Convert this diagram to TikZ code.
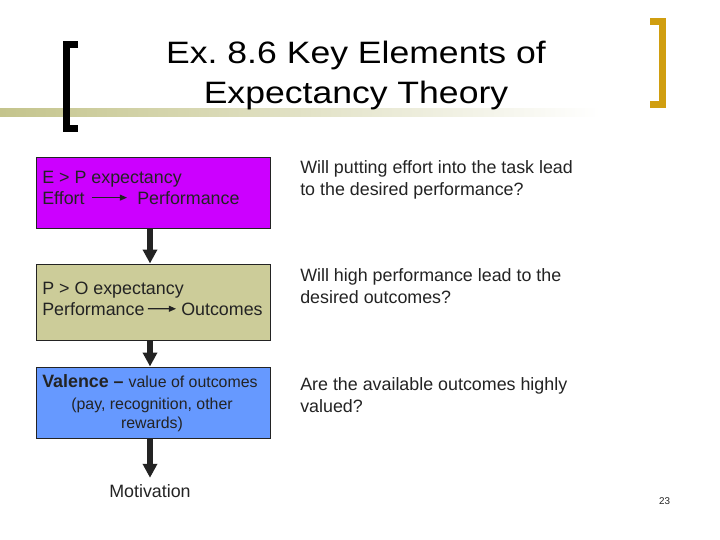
\documentclass[tikz,border=0pt]{standalone}
\usepackage{fontspec}
\setmainfont{Liberation Sans}
\newfontfamily\titlefont[FakeStretch=1.15]{Liberation Sans}
\usetikzlibrary{arrows.meta}
\definecolor{ink}{RGB}{35,35,35}
\definecolor{violetbox}{RGB}{204,0,255}
\definecolor{khakibox}{RGB}{204,204,153}
\definecolor{bluebox}{RGB}{102,153,255}
\definecolor{bandolive}{RGB}{196,196,140}
\definecolor{bracketgold}{RGB}{208,158,16}
\newcommand{\bodyfont}{\fontsize{12.7}{15.6}\selectfont}
\newcommand{\smallbody}{\fontsize{11.3}{13.5}\selectfont}
\begin{document}
\begin{tikzpicture}[x=0.25mm, y=-0.25mm, text=ink,
  every node/.append style={inner sep=0pt, font=\bodyfont},
  stage/.style={draw=ink, line width=0.25mm, minimum width=58.5mm, minimum height=#1},
  flow/.style={draw=ink, line width=1.5mm, -{Triangle[length=3.5mm,width=3.5mm]}},
  lead/.style={draw=ink, line width=0.3mm, -{Triangle[length=1.8mm,width=1.5mm]}},
  bracket/.style={line width=1.75mm, miter limit=4}]
  \fill[white] (0,0) rectangle (720,540);
  \useasboundingbox (0,0) rectangle (720,540);
  \shade[left color=bandolive, right color=white] (0,108) rectangle (600,116);
  \draw[bracket, draw=black] (78,44.5) -- (66.5,44.5) -- (66.5,128.5) -- (78,128.5);
  \draw[bracket, draw=bracketgold] (650,21.5) -- (662.5,21.5) -- (662.5,104.5) -- (650,104.5);
  \node[font=\titlefont\fontsize{22}{28.4}\selectfont, text=black, align=center, anchor=north] (title) at (356,40.5) {Ex.\ 8.6 Key Elements of\\Expectancy Theory};

  \node[stage=17.75mm, fill=violetbox] (ep) at (153.7,192.5) {};
  \node[stage=19mm, fill=khakibox] (po) at (153.7,302) {};
  \node[stage=17.75mm, fill=bluebox] (val) at (153.7,402.5) {};
  \node[anchor=base] (mot) at (150,497) {Motivation};

  \node[anchor=base west] (eptitle) at (42,183) {E > P expectancy};
  \node[anchor=base west] (effort) at (42,204) {Effort};
  \node[anchor=base west] (perf) at (137,204) {Performance};
  \draw[lead, shorten <=1.75mm, shorten >=2.5mm] (effort) -- (perf);

  \node[anchor=base west] (potitle) at (42,294) {P > O expectancy};
  \node[anchor=base west] (perfb) at (42,315) {Performance};
  \node[anchor=base west] (outcomes) at (181,315) {Outcomes};
  \draw[lead, shorten <=0.75mm, shorten >=1.25mm] (perfb) -- (outcomes);

  \node[anchor=base west] (valence) at (42,387) {\bfseries Valence – {\mdseries\smallbody value of outcomes}};
  \node[font=\smallbody, align=center, anchor=north] (rewards) at (152,398) {(pay, recognition, other\\rewards)};

  \draw[flow] (ep.south -| mot) -- (po.north -| mot);
  \draw[flow] (po.south -| mot) -- (val.north -| mot);
  \draw[flow, shorten >=1.5mm] (val.south -| mot) -- (mot);

  \node[align=left, anchor=north west] (askep) at (300,160) {Will putting effort into the task lead\\to the desired performance?};
  \node[align=left, anchor=north west] (askpo) at (300,268) {Will high performance lead to the\\desired outcomes?};
  \node[align=left, anchor=north west] (askval) at (300,377) {Are the available outcomes highly\\valued?};

  \node[font=\fontsize{7}{8}\selectfont, anchor=base] (pagenum) at (664.5,504) {23};
\end{tikzpicture}
\end{document}
